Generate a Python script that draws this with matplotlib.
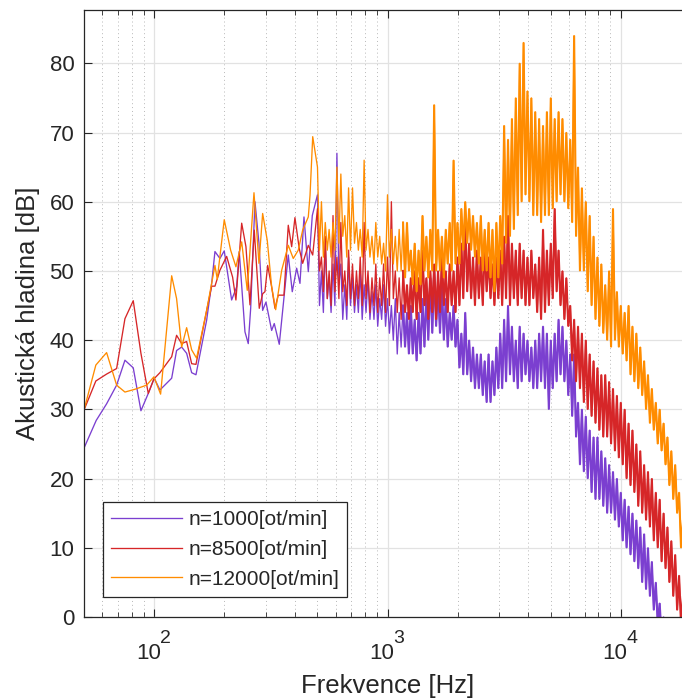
import numpy as np
import matplotlib
matplotlib.use('Agg')
import matplotlib.pyplot as plt
from matplotlib.ticker import LogLocator, NullFormatter, FixedLocator

plt.rcParams['font.family'] = ['Liberation Sans', 'DejaVu Sans']
plt.rcParams['mathtext.default'] = 'regular'

# ---------------- data ----------------
labels = ['n=1000[ot/min]', 'n=8500[ot/min]', 'n=12000[ot/min]']
colors = ['#7B3FD0', '#D62628', '#FF8C00']
xtick_vals = [100, 1000, 10000]
xtick_base = '10'
xtick_exps = ['2', '3', '4']

# low-frequency part: individual spectral points (Hz, dB)
freq_lo_1000 = [50.0, 56.4, 62.5, 69.0, 74.9, 81.3, 87.7, 94.3, 100.0, 105.8, 118.8, 124.7,
                131.1, 137.7, 144.7, 151.0, 167.8, 176.3, 182.1, 191.3, 199.6, 214.7, 225.6,
                231.5, 244.9, 253.0, 259.1, 270.3, 281.2, 291.6, 301.3, 318.7, 327.0, 343.6,
                375.5, 390.6, 407.9, 421.5, 438.5, 457.6, 476.0]
spl_lo_1000 = [24.4, 28.4, 30.8, 33.5, 37.1, 36.0, 29.8, 32.3, 34.5, 32.8, 34.5, 38.5,
               39.0, 38.1, 35.3, 35.0, 42.9, 48.2, 52.8, 51.8, 52.9, 45.8, 47.7,
               52.8, 41.2, 39.5, 44.6, 60.0, 54.0, 44.3, 45.5, 41.4, 42.4, 39.4,
               52.3, 47.0, 50.4, 48.2, 57.8, 49.9, 58.0]

freq_lo_8500 = [50.0, 56.2, 62.5, 69.0, 74.9, 81.3, 87.7, 94.3, 99.7, 105.8, 118.8, 124.7,
                131.1, 137.7, 144.7, 151.0, 167.8, 176.3, 182.1, 191.3, 204.4, 216.8, 224.0,
                237.1, 247.3, 257.3, 268.5, 282.0, 291.6, 298.3, 306.4, 318.7, 329.3, 340.2,
                359.9, 375.5, 388.3, 401.1, 418.6, 432.9, 457.6, 477.9]
spl_lo_8500 = [29.9, 34.1, 35.1, 35.9, 43.1, 45.7, 38.1, 32.3, 34.4, 35.3, 37.6, 40.7,
               39.5, 39.8, 36.6, 36.5, 44.3, 47.8, 47.8, 50.1, 52.1, 49.1, 45.8,
               56.9, 53.5, 45.1, 55.9, 44.6, 46.7, 47.0, 50.8, 47.7, 44.6, 46.5,
               46.5, 56.6, 53.5, 57.7, 53.2, 51.1, 53.7, 52.3]

freq_lo_12000 = [50.0, 56.2, 62.5, 69.0, 74.9, 82.6, 92.8, 99.7, 106.5, 118.8, 124.7, 131.1,
                 137.7, 144.7, 151.9, 167.8, 182.1, 186.3, 199.6, 212.6, 224.0, 237.1, 250.5,
                 267.7, 281.2, 291.6, 305.2, 318.7, 331.6, 351.9, 375.5, 394.5, 414.4, 432.9,
                 457.6, 465.4, 478.0]
spl_lo_12000 = [29.9, 36.4, 38.2, 33.5, 32.5, 32.9, 33.5, 34.7, 32.2, 49.3, 46.0, 39.0,
                41.8, 38.6, 37.4, 44.3, 50.8, 48.8, 57.4, 53.0, 50.6, 54.2, 47.2,
                61.3, 51.1, 58.3, 54.4, 47.7, 44.4, 50.1, 53.7, 51.8, 53.0, 55.9,
                57.8, 60.9, 69.4]

# dense part: frequencies (Hz) of the local maxima and of the local minima in between
freq_hi = [501, 521, 541, 562, 584, 607, 631, 656, 681, 708, 736, 764, 794, 825, 858, 891,
           926, 962, 1000, 1039, 1080, 1122, 1166, 1212, 1259, 1308, 1359, 1413, 1468, 1526,
           1585, 1647, 1711, 1778, 1848, 1920, 1995, 2073, 2154, 2239, 2326, 2417, 2512, 2610,
           2712, 2818, 2929, 3043, 3162, 3286, 3415, 3548, 3687, 3831, 3981, 4137, 4299, 4467,
           4642, 4823, 5012, 5208, 5412, 5623, 5843, 6072, 6310, 6557, 6813, 7079, 7356, 7644,
           7943, 8254, 8577, 8913, 9261, 9624, 10000, 10390, 10800, 11220, 11660, 12120, 12590,
           13080, 13590, 14130, 14680, 15260, 15850, 16470, 17110, 17780, 18480, 19200, 19950]
freq_hi_min = [511, 531, 552, 573, 595, 619, 643, 669, 694, 722, 750, 779, 809, 841, 875, 908,
               944, 981, 1019, 1059, 1101, 1144, 1189, 1235, 1283, 1333, 1385, 1440, 1496, 1556,
               1616, 1679, 1744, 1812, 1884, 1957, 2034, 2113, 2196, 2282, 2371, 2464, 2561, 2661,
               2765, 2873, 2986, 3102, 3223, 3350, 3481, 3617, 3758, 3905, 4058, 4217, 4382, 4554,
               4732, 4916, 5109, 5309, 5517, 5732, 5956, 6190, 6432, 6684, 6945, 7216, 7498, 7792,
               8097, 8414, 8743, 9086, 9440, 9810, 10194, 10591, 11009, 11437, 11886, 12355, 12834,
               13333, 13853, 14404, 14964, 15556, 16157, 16789, 17441, 18124, 18838, 19572, 20336]

hi_up_1000 = [61, 50, 54, 49, 51, 67, 51, 48, 52, 49, 48, 50, 48, 49, 47, 48,
              46, 48, 46, 45, 46, 44, 45, 44, 45, 43, 44, 46, 47, 49,
              50, 48, 48, 46, 44, 45, 43, 41, 44, 40, 39, 38, 38, 37,
              38, 37, 39, 41, 43, 45, 42, 40, 42, 41, 40, 39, 40, 41,
              42, 41, 40, 41, 43, 42, 40, 38, 38, 31, 30, 29, 27, 26,
              26, 24, 23, 22, 21, 20, 18, 17, 16, 15, 14, 13, 12,
              10, 8, 5, 2, 0, -2, -4, -6, -8, -10, -12, -14]
hi_lo_1000 = [45, 44, 46, 44, 45, 48, 43, 43, 45, 44, 44, 43, 44, 43, 43, 42,
              43, 42, 41, 40, 38, 39, 39, 38, 38, 37, 38, 39, 40, 41,
              42, 41, 40, 39, 40, 39, 36, 35, 35, 34, 33, 33, 32, 31,
              31, 32, 33, 33, 34, 35, 34, 33, 34, 35, 34, 33, 33, 34,
              33, 30, 33, 34, 35, 34, 32, 29, 26, 22, 21, 20, 18, 17,
              17, 16, 15, 15, 14, 13, 11, 10, 9, 8, 7, 5, 4,
              3, 1, -1, -3, -5, -7, -9, -11, -13, -15, -17, -19]

hi_up_8500 = [59, 52, 55, 50, 58, 52, 57, 50, 53, 51, 50, 52, 57, 50, 49, 51,
              49, 51, 52, 60, 50, 49, 50, 48, 49, 50, 49, 53, 49, 50,
              51, 50, 52, 50, 51, 50, 52, 54, 58, 54, 52, 53, 52, 54,
              52, 51, 52, 53, 55, 58, 54, 53, 54, 53, 52, 53, 51, 52,
              56, 53, 54, 59, 53, 50, 49, 45, 43, 42, 41, 40, 38, 37,
              36, 35, 35, 34, 33, 32, 31, 30, 28, 27, 25, 24, 22,
              21, 20, 18, 17, 15, 13, 11, 9, 6, 3, 0, -3]
hi_lo_8500 = [50, 47, 46, 45, 47, 46, 47, 45, 46, 45, 46, 45, 46, 44, 45, 44,
              45, 44, 45, 46, 44, 43, 44, 43, 44, 43, 44, 45, 43, 44,
              43, 44, 45, 44, 45, 44, 45, 46, 47, 46, 45, 46, 45, 47,
              46, 45, 46, 45, 46, 45, 46, 45, 46, 45, 45, 46, 44, 43,
              44, 45, 46, 47, 45, 43, 42, 37, 34, 33, 31, 30, 29, 28,
              27, 26, 26, 25, 24, 23, 22, 20, 19, 18, 16, 15, 14,
              13, 11, 10, 8, 7, 5, 3, 1, -1, -4, -6, -8]

hi_up_12000 = [65, 60, 57, 56, 57, 65, 64, 58, 62, 62, 57, 56, 66, 56, 55, 57,
               55, 54, 61, 56, 55, 56, 57, 57, 53, 54, 53, 58, 55, 56,
               74, 56, 55, 56, 57, 66, 57, 59, 60, 59, 58, 57, 58, 56,
               57, 56, 57, 58, 71, 69, 72, 75, 80, 83, 76, 75, 73, 72,
               71, 73, 75, 72, 73, 72, 70, 69, 84, 65, 62, 60, 58, 55,
               52, 51, 48, 50, 59, 47, 45, 44, 45, 42, 41, 39, 37,
               35, 33, 31, 30, 28, 26, 24, 22, 18, 14, 10, 7]
hi_lo_12000 = [53, 52, 53, 52, 53, 54, 55, 52, 53, 54, 53, 52, 53, 52, 51, 52,
               51, 50, 52, 51, 50, 50, 49, 50, 48, 47, 48, 50, 49, 50,
               50, 50, 49, 51, 50, 51, 51, 53, 54, 53, 52, 51, 50, 50,
               49, 47, 49, 51, 54, 55, 56, 58, 60, 61, 60, 58, 58, 57,
               58, 58, 59, 60, 61, 60, 59, 57, 55, 50, 50, 47, 45, 43,
               42, 41, 40, 39, 40, 39, 38, 37, 35, 34, 33, 32, 30,
               28, 27, 25, 24, 22, 19, 17, 15, 10, 6, 3, 0]

series = [
    (freq_lo_1000, spl_lo_1000, hi_up_1000, hi_lo_1000),
    (freq_lo_8500, spl_lo_8500, hi_up_8500, hi_lo_8500),
    (freq_lo_12000, spl_lo_12000, hi_up_12000, hi_lo_12000),
]
dense_from = 22   # index in freq_hi above which the recorded spectrum is very dense

# ---------------- figure ----------------
W, H = 682, 699
fig = plt.figure(figsize=(W / 100, H / 100), dpi=100)
ax = fig.add_axes([84 / W, 82 / H, 607 / W, 607 / H])

f_dense = np.column_stack([freq_hi, freq_hi_min]).ravel().astype(float)
for (fl, sl, up, lo), lab, col in zip(series, labels, colors):
    y_dense = np.column_stack([up, lo]).ravel().astype(float)
    f = np.concatenate([fl, f_dense])
    y = np.concatenate([sl, y_dense])
    ax.plot(f, y, color=col, lw=0.95, label=lab)
    # very dense part: strokes overlap into a nearly solid band
    ax.plot(f_dense[2 * dense_from:], y_dense[2 * dense_from:], color=col, lw=1.5,
            solid_joinstyle='miter')

ax.set_xscale('log')
ax.set_xlim(50, 20000)
ax.set_ylim(0, 87.7)
ax.set_yticks(np.arange(0, 81, 10))
ax.xaxis.set_major_locator(FixedLocator(xtick_vals))
ax.xaxis.set_minor_locator(LogLocator(base=10, subs=np.arange(2, 10)))
ax.xaxis.set_minor_formatter(NullFormatter())

ax.set_axisbelow(True)
ax.grid(which='major', color='#e2e2e2', lw=0.9)
ax.grid(which='minor', axis='x', color='#b8b8b8', lw=0.7, ls=(0, (1, 3)))

dark = '#262626'
for s in ax.spines.values():
    s.set_color(dark)
    s.set_linewidth(0.9)
ax.tick_params(which='both', direction='in', top=True, right=True, colors=dark,
               labelsize=16)
ax.tick_params(which='major', length=6, width=0.8, pad=7)
ax.tick_params(which='minor', length=3.5, width=0.6)
ax.tick_params(axis='x', labelbottom=False)

# MATLAB-like "10^n" tick labels (large superscript)
for v, e in zip(xtick_vals, xtick_exps):
    ax.annotate(xtick_base, xy=(v, 0), xycoords=('data', 'axes fraction'),
                xytext=(-4.3, -30.2), textcoords='offset points', ha='center',
                va='baseline', fontsize=16, color=dark, annotation_clip=False)
    ax.annotate(e, xy=(v, 0), xycoords=('data', 'axes fraction'),
                xytext=(4.3, -18.9), textcoords='offset points', ha='left',
                va='baseline', fontsize=14, color=dark, annotation_clip=False)

ax.set_xlabel('Frekvence [Hz]', fontsize=18.5, color=dark)
ax.xaxis.set_label_coords(0.5, -0.094)
ax.set_ylabel('Akustická hladina [dB]', fontsize=18.5, color=dark)
ax.yaxis.set_label_coords(-0.0725, 0.5)

leg = ax.legend(loc='lower left', bbox_to_anchor=(0.031, 0.033), borderaxespad=0,
                fontsize=15, handlelength=3.4, handletextpad=0.3, labelspacing=0.52,
                borderpad=0.4, fancybox=False, framealpha=1, edgecolor=dark)
leg.get_frame().set_linewidth(0.9)
for t in leg.get_texts():
    t.set_color(dark)

fig.savefig('out.png', dpi=100)
